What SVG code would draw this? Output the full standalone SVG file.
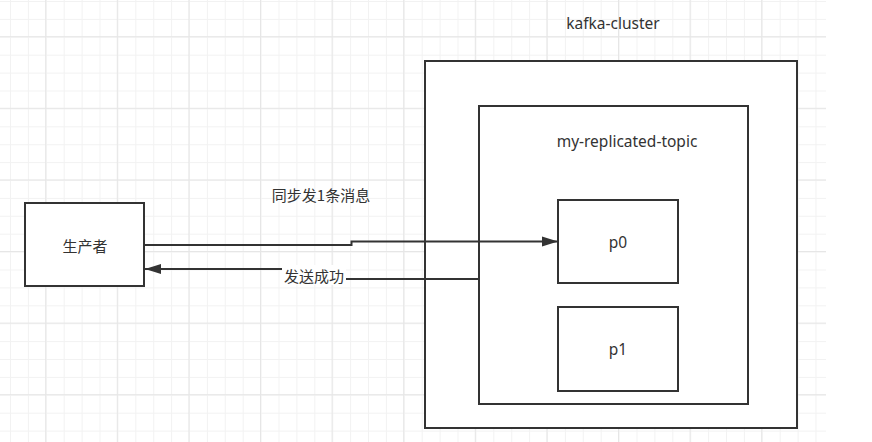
<svg xmlns="http://www.w3.org/2000/svg" width="872" height="442" viewBox="0 0 872 442">
<defs>
<pattern id="minor" patternUnits="userSpaceOnUse" x="10" y="1" width="17.9" height="17.9">
<path d="M0 0.5H17.9M0.5 0V17.9" stroke="#f2f2f2" stroke-width="1" fill="none"/>
</pattern>
<pattern id="major" patternUnits="userSpaceOnUse" x="45.2" y="36.2" width="71.6" height="71.6">
<path d="M0 0.5H71.6M0.5 0V71.6" stroke="#e6e6e6" stroke-width="1" fill="none"/>
</pattern>
<marker id="arrow" viewBox="0 0 16 12" refX="16" refY="6" markerWidth="16" markerHeight="12" markerUnits="userSpaceOnUse" orient="auto">
<path d="M0 1L16 6L0 11Z" fill="#333"/>
</marker>
</defs>
<style>
.box{fill:#fff;stroke:#333;stroke-width:2}
.t{font-family:"Noto Sans","Noto Sans CJK SC",sans-serif;font-size:15.5px;fill:#333;text-anchor:middle;dominant-baseline:central}
.cjk{font-family:"Noto Sans CJK SC",sans-serif;font-size:15px}
.edge{fill:none;stroke:#333;stroke-width:2}
</style>
<rect x="0" y="0" width="872" height="442" fill="#fff"/>
<rect x="0" y="0" width="826" height="442" fill="url(#minor)"/>
<rect x="0" y="0" width="826" height="442" fill="url(#major)"/>

<g id="kafka-cluster">
<rect class="box" x="425" y="61" width="372" height="367"/>
<text class="t" x="613" y="23">kafka-cluster</text>
</g>
<g id="my-replicated-topic">
<rect class="box" x="479" y="106" width="269" height="298"/>
<text class="t" x="627" y="141">my-replicated-topic</text>
</g>
<g id="p0">
<rect class="box" x="558" y="200" width="120" height="83"/>
<text class="t" x="618" y="242">p0</text>
</g>
<g id="p1">
<rect class="box" x="558" y="307" width="120" height="84"/>
<text class="t" x="618" y="349">p1</text>
</g>
<g id="producer">
<rect class="box" x="25" y="203" width="119" height="83"/>
<text class="t cjk" x="85" y="245">生产者</text>
</g>
<g id="sync-label">
<text class="t cjk" x="321" y="194">同步发1条消息</text>
</g>

<g id="connectors">
<path class="edge" d="M144 245H351.5V241.5H558" marker-end="url(#arrow)"/>
<path class="edge" d="M479 279H315V269H145" marker-end="url(#arrow)"/>
<rect x="282" y="265" width="64" height="20" fill="#fff"/>
<text class="t cjk" x="314" y="275">发送成功</text>
</g>
</svg>
